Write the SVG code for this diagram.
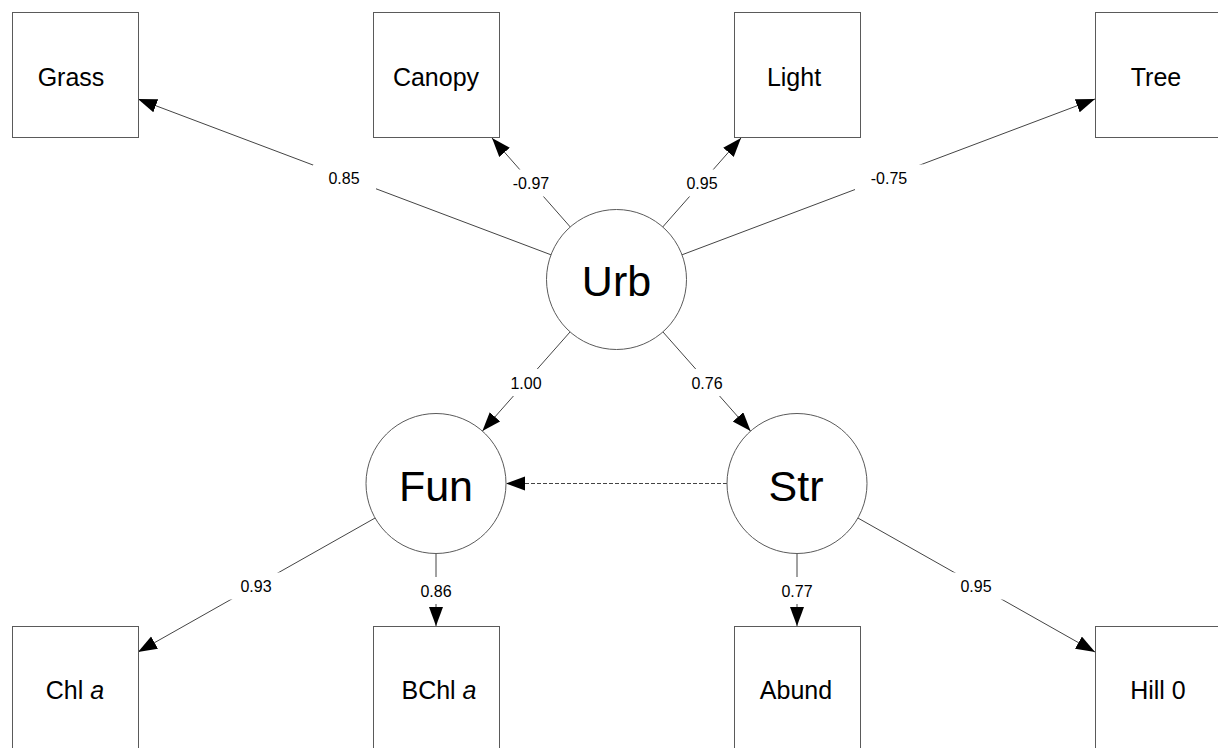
<svg xmlns="http://www.w3.org/2000/svg" width="1218" height="748" viewBox="0 0 1218 748">
  <style>
    .box { fill: #ffffff; stroke: #5a5a5a; stroke-width: 1; }
    .latent { fill: #ffffff; stroke: #5a5a5a; stroke-width: 1; }
    .obs-label { font-family: "Liberation Sans", Arial, sans-serif; font-size: 25px; fill: #000; text-anchor: middle; }
    .lat-label { font-family: "Liberation Sans", Arial, sans-serif; font-size: 43px; fill: #000; text-anchor: middle; }
    .edge { fill: none; stroke: #444; stroke-width: 1; marker-end: url(#head); }
    .dashed { stroke-dasharray: 4 2; }
    .coef-bg { fill: #ffffff; stroke: none; }
    .coef { font-family: "Liberation Sans", Arial, sans-serif; font-size: 16px; fill: #000; text-anchor: middle; }
  </style>
  <defs>
    <marker id="head" markerUnits="userSpaceOnUse" markerWidth="20" markerHeight="16" refX="19" refY="7" orient="auto">
      <path d="M0,0 L19,7 L0,14 Z" fill="#000"/>
    </marker>
  </defs>

  <rect width="1218" height="748" fill="#ffffff"/>

  <!-- path connectors with standardized coefficients -->
  <g id="connectors">
    <line class="edge" x1="551.0" y1="254.8" x2="138" y2="99"/>
    <line class="edge" x1="570.3" y1="227.0" x2="492" y2="138"/>
    <line class="edge" x1="662.7" y1="227.0" x2="741" y2="138"/>
    <line class="edge" x1="682.0" y1="254.8" x2="1095" y2="99"/>
    <line class="edge" x1="570.1" y1="331.9" x2="482.4" y2="431.1"/>
    <line class="edge" x1="662.9" y1="331.9" x2="750.6" y2="431.1"/>
    <line class="edge" x1="375.1" y1="518.0" x2="138" y2="652"/>
    <line class="edge" x1="436" y1="553.5" x2="436" y2="626"/>
    <line class="edge" x1="797" y1="553.5" x2="797" y2="626"/>
    <line class="edge" x1="857.9" y1="518.0" x2="1095" y2="652"/>
    <line class="edge dashed" x1="727" y1="483.5" x2="506" y2="483.5"/>

    <g id="coefficients">
      <rect class="coef-bg" x="313" y="164.5" width="63" height="27"/>
      <text class="coef" x="344" y="184">0.85</text>
      <rect class="coef-bg" x="497" y="169.5" width="68" height="27"/>
      <text class="coef" x="531" y="189">-0.97</text>
      <rect class="coef-bg" x="670" y="169.5" width="63" height="27"/>
      <text class="coef" x="702" y="189">0.95</text>
      <rect class="coef-bg" x="855" y="164.5" width="68" height="27"/>
      <text class="coef" x="889" y="184">-0.75</text>
      <rect class="coef-bg" x="495" y="369" width="63" height="27"/>
      <text class="coef" x="526" y="388.5">1.00</text>
      <rect class="coef-bg" x="675" y="369" width="63" height="27"/>
      <text class="coef" x="707" y="388.5">0.76</text>
      <rect class="coef-bg" x="225" y="572.5" width="63" height="27"/>
      <text class="coef" x="256" y="592">0.93</text>
      <rect class="coef-bg" x="405" y="577" width="63" height="27"/>
      <text class="coef" x="436" y="596.5">0.86</text>
      <rect class="coef-bg" x="766" y="577" width="63" height="27"/>
      <text class="coef" x="797" y="596.5">0.77</text>
      <rect class="coef-bg" x="945" y="572.5" width="63" height="27"/>
      <text class="coef" x="976" y="592">0.95</text>
    </g>
  </g>

  <!-- observed indicators -->
  <g id="grass">
    <rect class="box" x="12.5" y="12.5" width="126" height="125"/>
    <text class="obs-label" x="71" y="85.5">Grass</text>
  </g>
  <g id="canopy">
    <rect class="box" x="373.5" y="12.5" width="126" height="125"/>
    <text class="obs-label" x="436" y="85.5">Canopy</text>
  </g>
  <g id="light">
    <rect class="box" x="734.5" y="12.5" width="126" height="125"/>
    <text class="obs-label" x="794" y="85.5">Light</text>
  </g>
  <g id="tree">
    <rect class="box" x="1095.5" y="12.5" width="126" height="125"/>
    <text class="obs-label" x="1156" y="85.5">Tree</text>
  </g>
  <g id="chl-a">
    <rect class="box" x="12.5" y="626.5" width="126" height="126"/>
    <text class="obs-label" x="75" y="699">Chl <tspan font-style="italic">a</tspan></text>
  </g>
  <g id="bchl-a">
    <rect class="box" x="373.5" y="626.5" width="126" height="126"/>
    <text class="obs-label" x="439" y="699">BChl <tspan font-style="italic">a</tspan></text>
  </g>
  <g id="abund">
    <rect class="box" x="734.5" y="626.5" width="126" height="126"/>
    <text class="obs-label" x="796" y="699">Abund</text>
  </g>
  <g id="hill0">
    <rect class="box" x="1095.5" y="626.5" width="126" height="126"/>
    <text class="obs-label" x="1158" y="699">Hill 0</text>
  </g>

  <!-- latent constructs -->
  <g id="urb">
    <circle class="latent" cx="616.5" cy="279.5" r="70"/>
    <text class="lat-label" x="616.5" y="295.5">Urb</text>
  </g>
  <g id="fun">
    <circle class="latent" cx="436" cy="483.5" r="70"/>
    <text class="lat-label" x="436" y="500.5">Fun</text>
  </g>
  <g id="str">
    <circle class="latent" cx="797" cy="483.5" r="70"/>
    <text class="lat-label" x="796" y="500.5">Str</text>
  </g>
</svg>
